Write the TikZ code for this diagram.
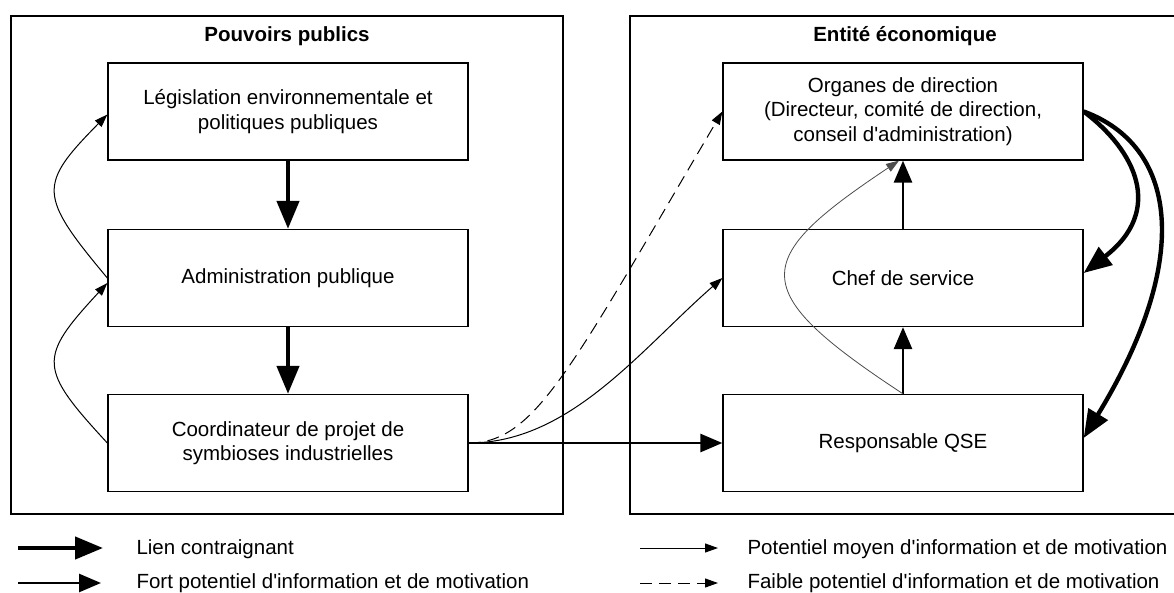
\documentclass[tikz,border=0pt]{standalone}
\usepackage{fontspec}
\setmainfont{Liberation Sans}
\usetikzlibrary{arrows.meta}
\newcommand{\aq}{\textquotesingle}
\begin{document}
\begin{tikzpicture}[x=1pt,y=-1pt,
  font=\fontsize{20.5}{24.5}\selectfont,
  box/.style={draw, line width=1.3pt, minimum width=360pt, minimum height=97pt, align=center, inner sep=0pt},
  outer/.style={draw, line width=1.3pt, inner sep=0pt},
  ttl/.style={anchor=base, font=\fontsize{20.5}{24.5}\selectfont\bfseries},
  lgd/.style={anchor=base west},
  lien/.style={line width=4.4pt, -{Triangle[length=28pt,width=22pt]}},
  fort/.style={line width=2.7pt, -{Triangle[length=22pt,width=18pt]}},
  moyen/.style={line width=1pt, -{Triangle[length=13pt,width=9pt]}},
  faible/.style={moyen, dash pattern=on 12pt off 7pt}]
\useasboundingbox (0,0) rectangle (1174,592);
\clip (0,0) rectangle (1174,592);
% outer frames
\node[outer, minimum width=552pt, minimum height=498pt] (pp) at (287,265) {};
\node[outer, minimum width=548pt, minimum height=498pt] (ee) at (904,265) {};
\node[ttl] (ppt) at (287,41) {Pouvoirs publics};
\node[ttl] (eet) at (905,41) {Entité économique};
% boxes
\node[box] (leg) at (288,111.5) {Législation environnementale et\\politiques publiques};
\node[box] (adm) at (288,278) {Administration publique};
\node[box] (coo) at (288,443) {Coordinateur de projet de\\symbioses industrielles};
\node[box] (org) at (903,111.5) {Organes de direction\\(Directeur, comité de direction,\\conseil d\aq administration)};
\node[box] (chef) at (903,278) {Chef de service};
\node[box] (qse) at (903,443) {Responsable QSE};
% straight arrows
\draw[lien] (leg.south) -- (adm.north);
\draw[lien] (adm.south) -- (coo.north);
\draw[fort] (qse.north) -- (chef.south);
\draw[fort] (chef.north) -- (org.south);
\draw[fort] (coo.east) -- (qse.west);
% thin curves
\draw[moyen] (adm.west) .. controls (38,195) and (38,185) .. ([yshift=-3pt]leg.west);
\draw[moyen] (coo.west) .. controls (38,368) and (38,358) .. ([yshift=-5pt]adm.west);
\draw[moyen] (coo.east) .. controls (570,443) and (640,350) .. (chef.west);
\draw[faible] (coo.east) .. controls (535,443) and (570,370) .. (org.west);
\draw[moyen, draw=black!70, line width=0.8pt] (qse.north) .. controls (745,290) and (750,260) .. ([xshift=-4pt]org.south);
% thick curves
\draw[lien] (org.east) .. controls (1135,150) and (1165,210) .. ([yshift=5pt]chef.east);
\draw[lien] (org.east) .. controls (1175,145) and (1195,255) .. ([yshift=5pt]qse.east);
% legend
\coordinate (a1) at (18,548); \coordinate (b1) at (103,548);
\draw[lien] (a1) -- (b1);
\node[lgd] (t1) at (133,554) {Lien contraignant};
\coordinate (a2) at (18,583); \coordinate (b2) at (101,583);
\draw[fort] (a2) -- (b2);
\node[lgd] (t2) at (133,588) {Fort potentiel d\aq information et de motivation};
\coordinate (a3) at (640,548); \coordinate (b3) at (718,548);
\draw[moyen] (a3) -- (b3);
\node[lgd] (t3) at (744,554) {Potentiel moyen d\aq information et de motivation};
\coordinate (a4) at (640,583); \coordinate (b4) at (718,583);
\draw[faible] (a4) -- (b4);
\node[lgd] (t4) at (744,588) {Faible potentiel d\aq information et de motivation};
\end{tikzpicture}
\end{document}
